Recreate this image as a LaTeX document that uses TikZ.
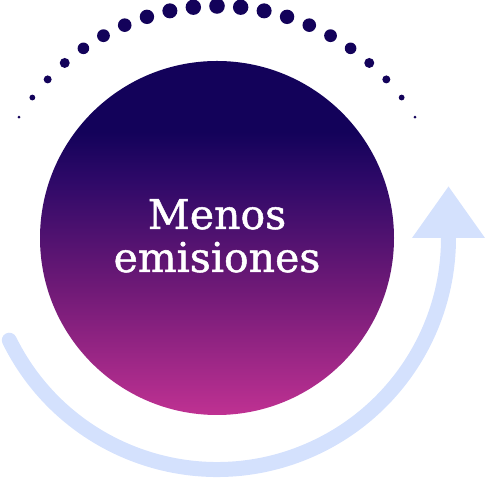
\documentclass[tikz,border=0pt]{standalone}
\usepackage{fontspec}
\setmainfont{DejaVu Serif}
\newfontfamily\labelfont[FakeBold=1.2]{DejaVu Serif}
\usepackage{tikz}

\definecolor{navy}{RGB}{19,2,90}
\definecolor{magenta}{RGB}{191,49,146}
\definecolor{flowblue}{RGB}{212,225,253}

\pgfdeclareverticalshading{menosshade}{100bp}{%
  color(0bp)=(magenta); color(25bp)=(magenta);
  color(42.7bp)=(rgb,255:red,112;green,26;blue,119);
  color(58.2bp)=(rgb,255:red,46;green,9;blue,104);
  color(65bp)=(navy); color(100bp)=(navy)}

\tikzset{
  core/.style={circle,inner sep=0pt,minimum size=354pt,shading=menosshade},
  flow/.style={draw=flowblue,line width=15pt,line cap=round},
  dotmark/.style={fill=navy}
}

\begin{document}
\begin{tikzpicture}[x=1pt,y=1pt]
  \useasboundingbox (0,0) rectangle (485,478);
%Main circle
  \node[core] (core) at (217,240) {};
  \node[text=white,font=\labelfont\fontsize{41}{43}\selectfont,align=center,anchor=base] (label) at (217,206) {Menos\\emisiones};
%Dotted arc
  \foreach \r [count=\i from 0] in {1.6,2.9,4,5,5.8,6.4,6.8,7.2,7.5,7.7,7.8,7.7,7.5,7.2,6.8,6.4,5.8,5,4,2.9,1.6}
    \fill[dotmark] (core.center) ++({148.6-\i*5.86}:232) circle[radius=\r];
%Return arrow
  \draw[flow] (core.center) ++(206.2:231.5) arc[start angle=206.2,end angle=360,radius=231.5] coordinate (tail);
  \fill[flowblue] ([xshift=-36.5]tail) -- ([xshift=36.5]tail) -- ([yshift=51.5]tail) -- cycle;
\end{tikzpicture}
\end{document}
